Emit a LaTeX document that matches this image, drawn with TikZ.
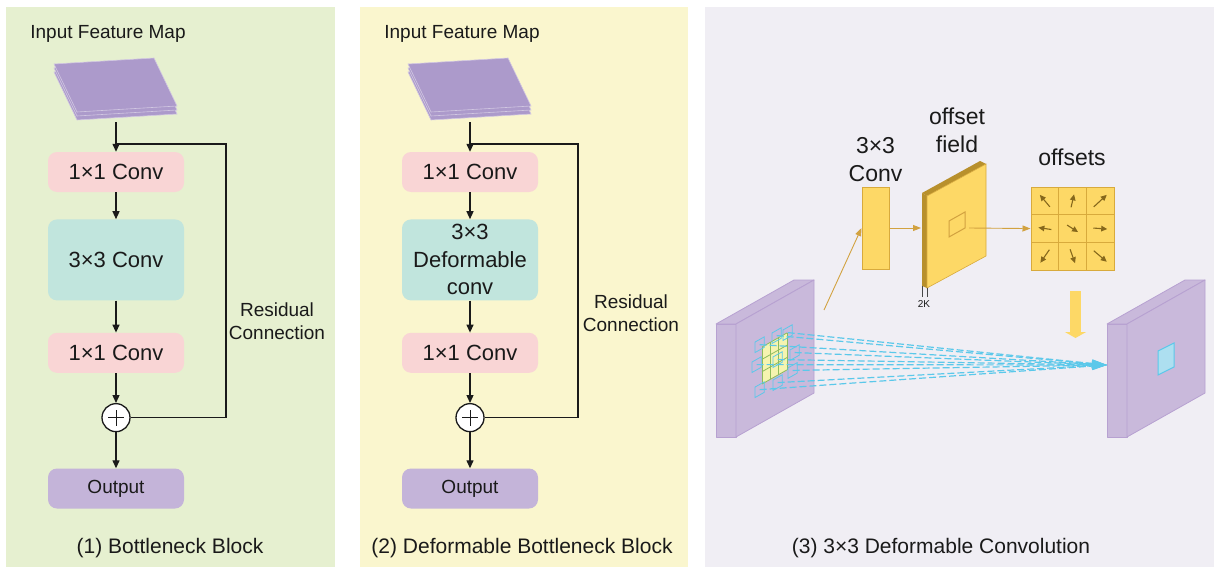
\documentclass[tikz,border=0pt]{standalone}
\usepackage{fontspec}
\setmainfont{Liberation Sans}
\usepackage{xcolor}
\usepackage{tikz}
\usetikzlibrary{arrows.meta,positioning,calc}
\definecolor{panelgreen}{HTML}{E6F0D0}
\definecolor{panelyellow}{HTML}{FAF6CE}
\definecolor{panelgrey}{HTML}{F0EEF4}
\definecolor{convpink}{HTML}{F9D5D5}
\definecolor{convteal}{HTML}{C1E5DD}
\definecolor{outlilac}{HTML}{C4B4D9}
\definecolor{maplilac}{HTML}{AC9ACB}
\definecolor{slablilac}{HTML}{C9B9DB}
\definecolor{slabedge}{HTML}{B7A1D1}
\definecolor{gold}{HTML}{FDD866}
\definecolor{goldedge}{HTML}{D8AA3C}
\definecolor{golddark}{HTML}{B8902C}
\definecolor{goldline}{HTML}{D2A240}
\definecolor{arrowbrown}{HTML}{86681C}
\definecolor{sky}{HTML}{5BC8EA}
\definecolor{skyfill}{HTML}{ADDFF0}
\definecolor{gridfill}{HTML}{F5F4B0}
\definecolor{gridline}{HTML}{8DBB5C}
\definecolor{ink}{HTML}{1A1A1A}
\tikzset{
  convbox/.style={
    rectangle, rounded corners=9pt, fill=#1, text=ink,
    minimum width=136pt, minimum height=40pt,
    font=\fontsize{22}{27.5}\selectfont, align=center,
    inner sep=2pt
  },
  convbox/.default=convpink,
  flowarrow/.style={
    -{Triangle[length=8pt,width=7pt]}, line width=1.3pt, color=#1
  },
  flowarrow/.default=ink,
  flowline/.style={line width=1.3pt, ink},
  sumnode/.style={circle, draw=ink, line width=1.3pt, fill=white,
    minimum size=28pt, inner sep=0pt,
    path picture={\draw[ink, line width=0.8pt]
      ([xshift=-8pt]path picture bounding box.center) --
      ([xshift=8pt]path picture bounding box.center)
      ([yshift=-8pt]path picture bounding box.center) --
      ([yshift=8pt]path picture bounding box.center);}},
  headtext/.style={font=\fontsize{19}{23}\selectfont, align=center, text=ink},
  captext/.style={font=\fontsize{21}{25}\selectfont, text=ink},
  bigtext/.style={font=\fontsize{23}{28}\selectfont, align=center, text=ink},
  slabface/.style={fill=slablilac, draw=slabedge, line width=0.8pt,
    line join=round},
  goldbox/.style={rectangle, draw=goldedge, fill=gold, line width=1pt,
    inner sep=0pt},
  goldarrow/.style={-{Triangle[length=8pt,width=6pt]}, line width=0.9pt,
    goldline},
  offarrow/.style={-{Triangle[length=6pt,width=5.5pt]}, line width=1.1pt,
    arrowbrown},
  samplearrow/.style={-{Triangle[length=15pt,width=8pt]}, line width=1.2pt,
    sky, dash pattern=on 7pt off 3pt},
}

\begin{document}
\begin{tikzpicture}[x=1pt, y=-1pt]
  \useasboundingbox (0,0) rectangle (1214,567);
  \fill[panelgreen] (6,7) rectangle (335,567);
  \fill[panelyellow] (360,7) rectangle (688,567);
  \fill[panelgrey] (705,7) rectangle (1214,567);

  % (1) bottleneck block
  \node[headtext] (in1) at (108,34) {Input Feature Map};
  \foreach \d in {8,4,0}
    \filldraw[fill=maplilac, draw=maplilac!55!white, line width=0.6pt]
      (54,64+\d) -- ++(100,-6) -- ++(23,48) -- ++(-100,6) -- cycle;
  \coordinate (map1) at (116,122);
  \node[convbox] (conv1a) at (116,172) {1×1 Conv};
  \node[convbox=convteal, minimum height=81pt, below=27pt of conv1a] (conv1b) {3×3 Conv};
  \node[convbox, below=32pt of conv1b] (conv1c) {1×1 Conv};
  \node[sumnode, below=30pt of conv1c] (sum1) {};
  \node[convbox=outlilac, font=\fontsize{19}{23}\selectfont, below=36pt of sum1] (out1) {Output};
  \coordinate (res1) at (226,144);
  \draw[flowarrow] (map1) -- (conv1a);
  \draw[flowarrow] (conv1a) -- (conv1b);
  \draw[flowarrow] (conv1b) -- (conv1c);
  \draw[flowarrow] (conv1c) -- (sum1);
  \draw[flowarrow] (sum1) -- (out1);
  \draw[flowline] (sum1.east) -| (res1) -- (res1 -| conv1a);
  \node[headtext] (rlab1) at (277,321) {Residual\\Connection};
  \node[captext] (cap1) at (170,548) {(1) Bottleneck Block};

  % (2) deformable bottleneck block
  \node[headtext] (in2) at (462,34) {Input Feature Map};
  \foreach \d in {8,4,0}
    \filldraw[fill=maplilac, draw=maplilac!55!white, line width=0.6pt]
      (408,64+\d) -- ++(100,-6) -- ++(23,48) -- ++(-100,6) -- cycle;
  \coordinate (map2) at (470,122);
  \node[convbox] (conv2a) at (470,172) {1×1 Conv};
  \node[convbox=convteal, minimum height=81pt, below=27pt of conv2a] (conv2b) {3×3\\Deformable\\conv};
  \node[convbox, below=32pt of conv2b] (conv2c) {1×1 Conv};
  \node[sumnode, below=30pt of conv2c] (sum2) {};
  \node[convbox=outlilac, font=\fontsize{19}{23}\selectfont, below=36pt of sum2] (out2) {Output};
  \coordinate (res2) at (578,144);
  \draw[flowarrow] (map2) -- (conv2a);
  \draw[flowarrow] (conv2a) -- (conv2b);
  \draw[flowarrow] (conv2b) -- (conv2c);
  \draw[flowarrow] (conv2c) -- (sum2);
  \draw[flowarrow] (sum2) -- (out2);
  \draw[flowline] (sum2.east) -| (res2) -- (res2 -| conv2a);
  \node[headtext] (rlab2) at (631,313) {Residual\\Connection};
  \node[captext] (cap2) at (522,548) {(2) Deformable Bottleneck Block};

  % (3) deformable convolution
  \foreach \x in {716,1107} {
    \filldraw[slabface] (\x,324) rectangle ++(20,113);
    \filldraw[slabface] (\x,324) -- ++(78,-44) -- ++(20,0) -- ++(-78,44) -- cycle;
    \filldraw[slabface] (\x+20,324) -- ++(78,-44) -- ++(0,113) -- ++(-78,44) -- cycle;
  }
  \filldraw[fill=skyfill, draw=sky, line width=1pt]
    (1158,351) -- (1174,343) -- (1174,367) -- (1158,375) -- cycle;
  \begin{scope}[shift={(762,347)}, x={(8.33pt,4.7pt)}, y={(0pt,-12.33pt)}]
    \fill[gridfill] (0,0) -- (3,0) -- (3,3) -- (0,3) -- cycle;
    \foreach \i in {0,...,3} {
      \draw[gridline, line width=0.8pt] (\i,0) -- (\i,3);
      \draw[gridline, line width=0.8pt] (0,\i) -- (3,\i);
    }
    \foreach \n/\c/\r in {1/-0.84/-0.72, 2/1.2/-0.68, 3/2.52/-0.42,
        4/-1.2/0.76, 5/1.32/1.31, 6/3.36/1.52,
        7/-0.84/2.93, 8/1.32/3.18, 9/3.12/2.88} {
      \draw[sky, line width=0.8pt] (\c,\r) -- ++(1.1,0) -- ++(0,0.85) -- ++(-1.1,0) -- cycle;
      \coordinate (smp\n) at (\c+0.55,\r+0.42);
    }
  \end{scope}
  \coordinate (sink) at (1107,365);
  \foreach \n in {1,...,9}
    \draw[samplearrow] (smp\n) -- (sink);

  \coordinate (tap) at (824,310);
  \node[goldbox, minimum width=27pt, minimum height=82pt] (offconv) at (875.5,228) {};
  \node[bigtext, above=1pt of offconv] (convlab) {3×3\\Conv};
  \draw[goldarrow] (tap) -- (offconv.west);

  \fill[golddark] (922,193) -- (980,161) -- (986,164) -- (927,196) -- cycle;
  \fill[golddark] (922,193) -- (927,196) -- (927,288) -- (922,286) -- cycle;
  \filldraw[fill=gold, draw=goldedge, line width=0.6pt]
    (927,196) -- (986,164) -- (986,256) -- (927,288) -- cycle;
  \draw[goldline, line width=1pt] (949,221) -- (965,212) -- (965,228) -- (949,237) -- cycle;
  \draw[ink!80, line width=0.6pt] (922,286) -- (922,297) (927,288) -- (927,297);
  \node[font=\fontsize{10}{12}\selectfont, text=ink] (klab) at (924,304) {2K};
  \node[bigtext] (fieldlab) at (957,130) {offset\\field};
  \coordinate (fieldin) at (921,228);
  \coordinate (fieldout) at (969,228);
  \draw[goldarrow] (offconv.east) -- (fieldin);

  \foreach \r in {1,2,3}
    \foreach \c in {1,2,3}
      \node[goldbox, minimum size=27.7pt] (off-\r-\c)
        at (1031+27.7*\c-13.85, 187+27.7*\r-13.85) {};
  \foreach \r/\c/\dx/\dy in {1/1/-10/-12, 1/2/3/-13, 1/3/13/-12,
      2/1/-13/-2, 2/2/11/7, 2/3/14/1,
      3/1/-9/13, 3/2/5/14, 3/3/13/11}
    \draw[offarrow] ($(off-\r-\c)-(\dx/2,\dy/2)$) -- ++(\dx,\dy);
  \node[bigtext] (offlab) at (1072,157) {offsets};
  \draw[goldarrow] (fieldout) -- (off-2-1.west);

  \coordinate (drop) at (1075.5,291);
  \draw[gold, line width=11pt, -{Triangle[length=6pt,width=21pt]}] (drop) -- ++(0,47);

  \node[captext] (cap3) at (941,548) {(3) 3×3 Deformable Convolution};
\end{tikzpicture}
\end{document}
